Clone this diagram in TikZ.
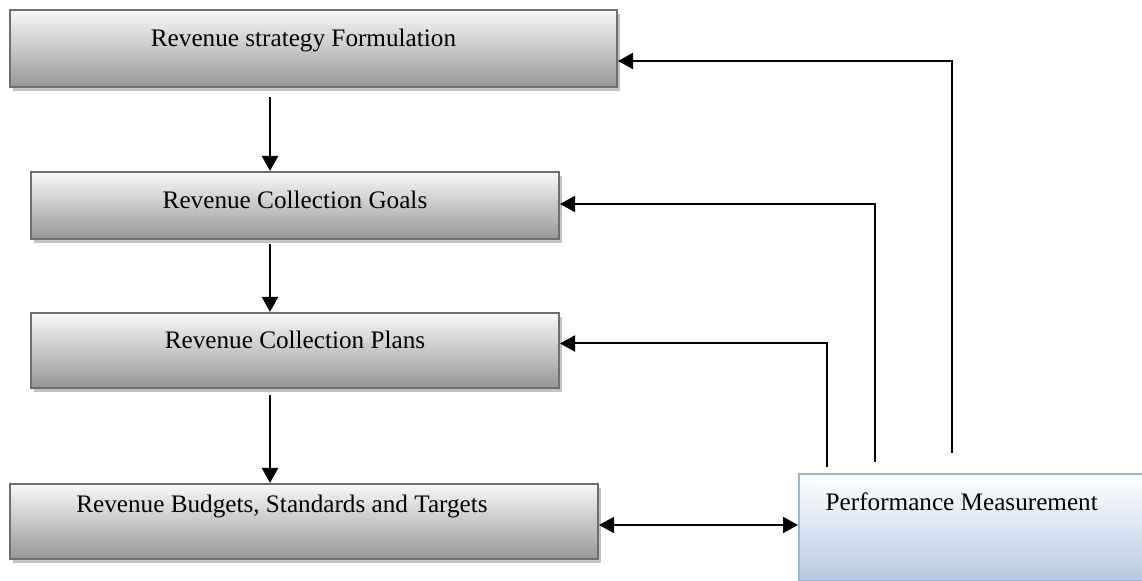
\documentclass[tikz,border=0pt]{standalone}
\usepackage{fontspec}
\setmainfont{Liberation Serif}
\usepackage{tikz}
\usetikzlibrary{arrows.meta,shadows}

\definecolor{boxline}{HTML}{6E6E6E}
\definecolor{boxtop}{HTML}{F8F8F8}
\definecolor{boxbottom}{HTML}{979797}
\definecolor{perfline}{HTML}{9BB5D8}
\definecolor{perftop}{HTML}{FFFFFF}
\definecolor{perfbottom}{HTML}{B6CAE3}

\tikzset{
    revbox/.style={draw=boxline,line width=1pt,top color=boxtop,bottom color=boxbottom,
      anchor=north west,inner ysep=0pt,text height=18.5pt,align=center,
      drop shadow={shadow xshift=1.5pt,shadow yshift=-2pt,fill=black!24,opacity=1}},
    perfbox/.style={draw=perfline,line width=1pt,top color=perftop,bottom color=perfbottom,
      anchor=north west,inner ysep=0pt,text height=18.5pt,align=center},
    flow/.style={line width=1pt,-{Triangle[length=7.5pt,width=8pt]}}
}

\begin{document}
\begin{tikzpicture}[x=0.5pt,y=-0.5pt,font=\fontsize{12.6}{15}\selectfont]
    \useasboundingbox (0,0) rectangle (1142,581);

    % boxes down the left side
    \node[revbox,minimum width=303.5pt,text depth=20pt] (strategy) at (9,9)
      {Revenue strategy Formulation\hspace*{10pt}};
    \node[revbox,minimum width=264pt,text depth=15pt] (goals) at (30,171) {Revenue Collection Goals};
    \node[revbox,minimum width=264pt,text depth=19.5pt,text height=18pt] (plans) at (30,312) {Revenue Collection Plans};
    \node[revbox,minimum width=294pt,text depth=23pt,text height=14.5pt] (budgets) at (9,483)
      {Revenue Budgets, Standards and Targets\hspace*{22pt}};
    \node[perfbox,minimum width=175pt,text depth=35pt,text height=18.5pt] (perf) at (798,473)
      {\hspace*{10pt}Performance Measurement\hspace*{72pt}};

    % main chain
    \coordinate (spine) at (270,0);
    \draw[flow,shorten <=4.5pt] (strategy.south -| spine) -- (goals.north -| spine);
    \draw[flow,shorten <=2pt] (goals.south -| spine) -- (plans.north -| spine);
    \draw[flow,shorten <=3pt] (plans.south -| spine) -- (budgets.north -| spine);

    % feedback lines
    \coordinate (fb plans) at ([xshift=14.5pt,yshift=3pt]perf.north west);
    \coordinate (fb goals) at ([xshift=38.5pt,yshift=5.5pt]perf.north west);
    \coordinate (fb strategy) at ([xshift=77pt,yshift=10pt]perf.north west);
    \draw[flow] (fb plans) |- ([yshift=3.5pt]plans.east);
    \draw[flow] (fb goals) |- ([yshift=0.75pt]goals.east);
    \draw[flow] (fb strategy) |- ([yshift=-6.25pt]strategy.east);

    \draw[flow,{Triangle[length=7.5pt,width=8pt]}-{Triangle[length=7.5pt,width=8pt]}]
      ([yshift=-1.75pt]budgets.east) -- ([yshift=-1.75pt]budgets.east -| perf.west);
\end{tikzpicture}
\end{document}
